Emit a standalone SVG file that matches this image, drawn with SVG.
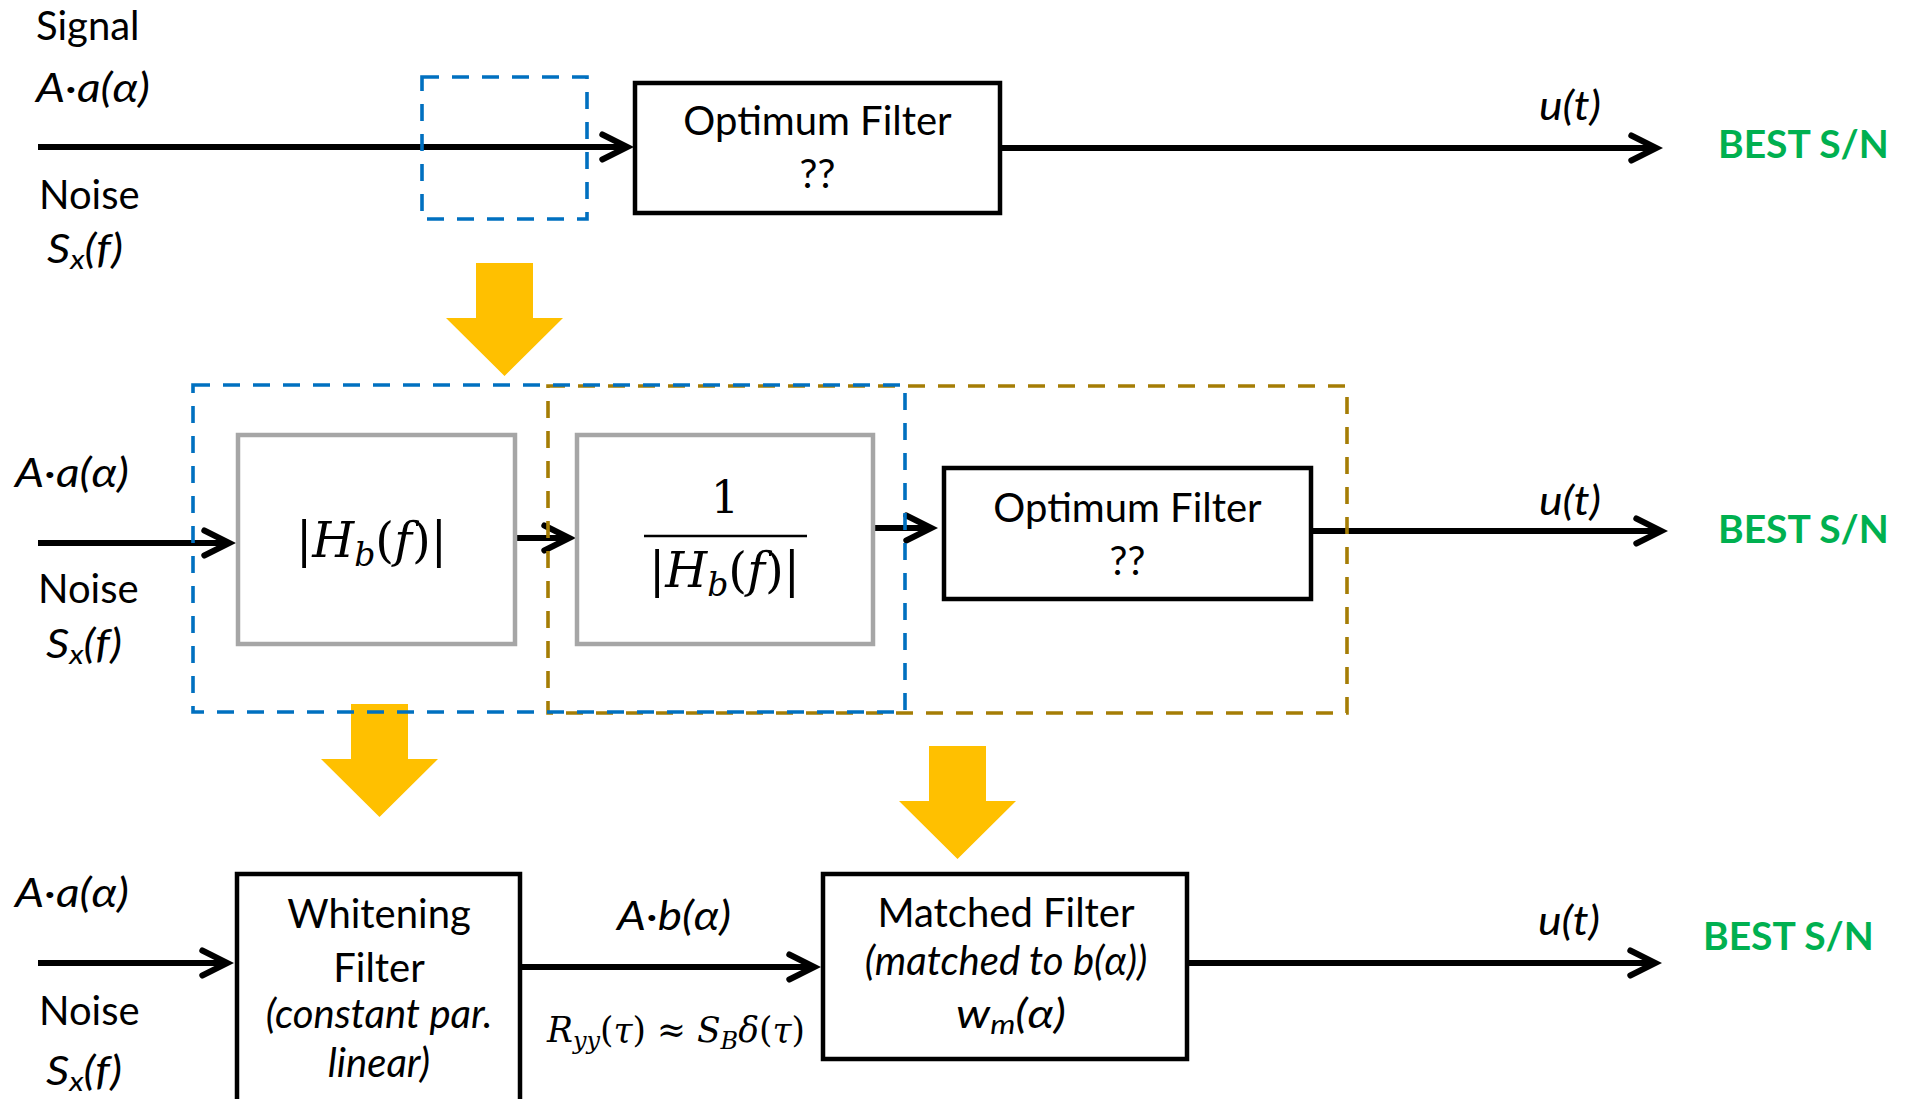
<svg xmlns="http://www.w3.org/2000/svg" width="1908" height="1099" viewBox="0 0 1908 1099">
  <defs>
    <style>
      .t { font-family: Lato, "Open Sans", sans-serif; font-size: 40px; fill: #000; }
      .i { font-style: italic; }
      .c { text-anchor: middle; }
      .g { font-weight: bold; fill: #00B050; font-size: 39px; }
      .m { font-family: "DejaVu Serif", "Liberation Serif", serif; fill: #000; }
      .mi { font-style: italic; }
      .wire { stroke: #000; stroke-width: 6; fill: none; marker-end: url(#chev); }
      .box { fill: #fff; stroke: #000; stroke-width: 4.5; }
      .gbox { fill: #fff; stroke: #A6A6A6; stroke-width: 4.5; }
      .blue { fill: none; stroke: #0070C0; stroke-width: 3.6; stroke-dasharray: 17 13; }
      .gold { fill: none; stroke: #A57D05; stroke-width: 3.6; stroke-dasharray: 17 13; }
      .down { fill: #FFC000; }
    </style>
    <marker id="chev" markerUnits="userSpaceOnUse" markerWidth="40" markerHeight="40"
            viewBox="-32 -20 40 40" refX="0" refY="0" orient="auto" overflow="visible">
      <path d="M-25.7,-12.5 L-0.7,0 L-25.7,12.5" fill="none" stroke="#000" stroke-width="6"
            stroke-linecap="round" stroke-linejoin="miter"/>
    </marker>
    <!-- block arrow pointing down, origin at the middle of the shaft top -->
    <path id="downArrow" d="M-28.5,0 H28.5 V55 H58.5 L0,113 L-58.5,55 H-28.5 Z"/>
  </defs>

  <rect width="1908" height="1099" fill="#fff"/>

  <!-- transformation steps between the three chains -->
  <g id="steps" class="down">
    <use href="#downArrow" x="504.5" y="263"/>
    <use href="#downArrow" x="379.5" y="704"/>
    <use href="#downArrow" x="957.5" y="746"/>
  </g>

  <!-- signal paths -->
  <g id="connectors">
    <path class="wire" d="M38,147 H628"/>
    <path class="wire" d="M1000,148 H1657"/>
    <path class="wire" d="M38,543 H230"/>
    <path class="wire" d="M515,538 H570"/>
    <path class="wire" d="M873,528 H932"/>
    <path class="wire" d="M1311,531 H1662"/>
    <path class="wire" d="M38,963 H228"/>
    <path class="wire" d="M520,967 H815"/>
    <path class="wire" d="M1187,963 H1656"/>
  </g>

  <!-- chain 1 -->
  <g id="input1">
    <text class="t" x="36" y="40">Signal</text>
    <text class="t i" x="36" y="102" textLength="114" lengthAdjust="spacingAndGlyphs">A·a(α)</text>
    <text class="t" x="39" y="209">Noise</text>
    <text class="t i" x="47" y="263" textLength="76" lengthAdjust="spacingAndGlyphs">S<tspan font-size="27" dy="6">x</tspan><tspan dy="-6">(f)</tspan></text>
  </g>
  <g id="optimumFilter1">
    <rect class="box" x="635" y="83" width="365" height="130"/>
    <text class="t c" x="817.5" y="135">Optimum Filter</text>
    <text class="t c" x="817.5" y="188">??</text>
  </g>
  <g id="output1">
    <text class="t i" x="1539" y="120" textLength="62" lengthAdjust="spacingAndGlyphs">u(t)</text>
    <text class="t g" x="1718" y="158">BEST S/N</text>
  </g>

  <!-- chain 2 -->
  <g id="input2">
    <text class="t i" x="15" y="487" textLength="114" lengthAdjust="spacingAndGlyphs">A·a(α)</text>
    <text class="t" x="38" y="603">Noise</text>
    <text class="t i" x="46" y="658" textLength="76" lengthAdjust="spacingAndGlyphs">S<tspan font-size="27" dy="6">x</tspan><tspan dy="-6">(f)</tspan></text>
  </g>
  <g id="shapingFilter">
    <rect class="gbox" x="238" y="435" width="277" height="209"/>
    <text class="m" x="296" y="557" font-size="48" textLength="151" lengthAdjust="spacingAndGlyphs">|<tspan class="mi">H</tspan><tspan class="mi" font-size="33" dy="9">b</tspan><tspan dy="-9">(</tspan><tspan class="mi">f</tspan>)|</text>
  </g>
  <g id="inverseFilter">
    <rect class="gbox" x="577" y="435" width="296" height="209"/>
    <text class="m c" x="725" y="513" font-size="44">1</text>
    <line x1="644" y1="536" x2="807" y2="536" stroke="#000" stroke-width="2.7"/>
    <text class="m" x="649" y="587" font-size="48" textLength="151" lengthAdjust="spacingAndGlyphs">|<tspan class="mi">H</tspan><tspan class="mi" font-size="33" dy="9">b</tspan><tspan dy="-9">(</tspan><tspan class="mi">f</tspan>)|</text>
  </g>
  <g id="optimumFilter2">
    <rect class="box" x="944" y="468" width="367" height="131"/>
    <text class="t c" x="1127.5" y="522">Optimum Filter</text>
    <text class="t c" x="1127.5" y="575">??</text>
  </g>
  <g id="output2">
    <text class="t i" x="1539" y="515" textLength="62" lengthAdjust="spacingAndGlyphs">u(t)</text>
    <text class="t g" x="1718" y="543">BEST S/N</text>
  </g>

  <!-- groupings of chain 2 -->
  <g id="groupings">
    <rect class="gold" x="548" y="386" width="799" height="327"/>
    <rect class="blue" x="193" y="385" width="712" height="327"/>
    <rect class="blue" x="422" y="77" width="165" height="142"/>
  </g>

  <!-- chain 3 -->
  <g id="input3">
    <text class="t i" x="15" y="907" textLength="114" lengthAdjust="spacingAndGlyphs">A·a(α)</text>
    <text class="t" x="39" y="1025">Noise</text>
    <text class="t i" x="46" y="1085" textLength="76" lengthAdjust="spacingAndGlyphs">S<tspan font-size="27" dy="6">x</tspan><tspan dy="-6">(f)</tspan></text>
  </g>
  <g id="whiteningFilter">
    <rect class="box" x="237" y="874" width="283" height="240"/>
    <text class="t c" x="379" y="928">Whitening</text>
    <text class="t c" x="379" y="982">Filter</text>
    <text class="t i c" x="379" y="1028">(constant par.</text>
    <text class="t i c" x="379" y="1077">linear)</text>
  </g>
  <g id="whitenedSignal">
    <text class="t i" x="617" y="930" textLength="114" lengthAdjust="spacingAndGlyphs">A·b(α)</text>
    <text class="m" x="547" y="1042" font-size="36" textLength="258" lengthAdjust="spacingAndGlyphs"><tspan class="mi">R</tspan><tspan class="mi" font-size="25" dy="7">yy</tspan><tspan dy="-7">(</tspan><tspan class="mi">τ</tspan>) ≈ <tspan class="mi">S</tspan><tspan class="mi" font-size="25" dy="7">B</tspan><tspan class="mi" dy="-7">δ</tspan>(<tspan class="mi">τ</tspan>)</text>
  </g>
  <g id="matchedFilter">
    <rect class="box" x="823" y="874" width="364" height="185"/>
    <text class="t c" x="1006" y="927">Matched Filter</text>
    <text class="t i c" x="1006" y="975">(matched to b(α))</text>
    <text class="t i c" x="1011" y="1028" textLength="110" lengthAdjust="spacingAndGlyphs">w<tspan font-size="27" dy="6">m</tspan><tspan dy="-6">(α)</tspan></text>
  </g>
  <g id="output3">
    <text class="t i" x="1538" y="935" textLength="62" lengthAdjust="spacingAndGlyphs">u(t)</text>
    <text class="t g" x="1703" y="950">BEST S/N</text>
  </g>
</svg>
